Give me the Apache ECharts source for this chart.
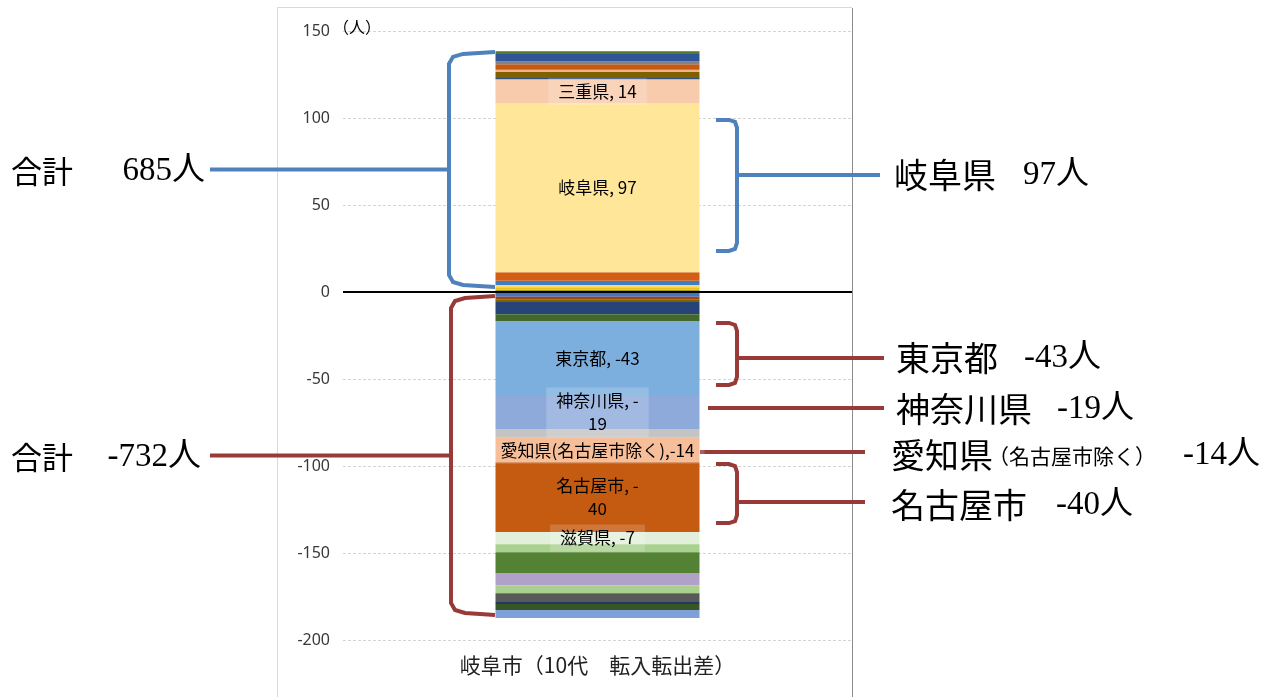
<!DOCTYPE html>
<html>
<head>
<meta charset="utf-8">
<script src="https://cdn.jsdelivr.net/npm/echarts@6/dist/echarts.min.js"></script>
<style>
  html, body { margin: 0; padding: 0; background: #fff; }
  #main { width: 1278px; height: 697px; }
</style>
</head>
<body>
<div id="main"></div>
<script>
var categories = ['岐阜市（10代　転入転出差）'];

// 積み上げの順番: 0 から外側へ（正は上へ、負は下へ）
var segNames = [
  '他1', '他2', '他3', '他4', '他5', '岐阜県', '三重県', '他6', '他7', '他8', '他9', '他10', '他11', '他12',
  '他13', '他14', '他15', '他16', '他17', '東京都', '神奈川県', '他18', '愛知県(名古屋市除く)', '名古屋市', '滋賀県',
  '他19', '他20', '他21', '他22', '他23', '他24', '他25', '他26'
];
var segValues = [
  1.3, 1.5, 1.2, 2.5, 4.8, 97, 14, 0.7, 3.5, 1.2, 3.2, 1.6, 4.3, 1.5,
  -2.8, -1.4, -1.6, -7, -3.9, -43, -19, -5.2, -14, -40, -7,
  -4.6, -12, -7, -4.6, -5, -1.2, -3.5, -4.5
];
var segLabels = [
  '', '', '', '', '', '岐阜県, 97', '三重県, 14', '', '', '', '', '', '', '',
  '', '', '', '', '', '東京都, -43', '神奈川県, -\n19', '', '愛知県(名古屋市除く),-14', '名古屋市, -\n40', '滋賀県, -7',
  '', '', '', '', '', '', '', ''
];
var segColors = [
  '#9a9a1c', '#efbf1e', '#ffd966', '#3d7fc4', '#d45f14', '#ffe699', '#f8cbad', '#2f4f7f', '#7f6000', '#f4b183', '#c55a11', '#7f8390', '#2f5597', '#4f7a30',
  '#4472c4', '#9e480e', '#806000', '#264478', '#43682b', '#7cafdd', '#8eaadb', '#c4c4c4', '#f4b183', '#c55a11', '#e2efda',
  '#a9d18e', '#548235', '#b1a0c7', '#a9d18e', '#595959', '#1f3864', '#375623', '#7f9fd9'
];
var labelBg = ['三重県', '神奈川県', '愛知県(名古屋市除く)', '滋賀県'];

// 注記
var totalPos = 685;
var totalNeg = -732;
var noteNames = ['岐阜県', '東京都', '神奈川県', '愛知県', '名古屋市'];
var noteValues = [97, -43, -19, -14, -40];

var chart = echarts.init(document.getElementById('main'));

var series = [];
for (var i = 0; i < segValues.length; i++) {
  var s = {
    name: segNames[i],
    type: 'bar',
    stack: 'total',
    barWidth: 204,
    data: [segValues[i]],
    itemStyle: { color: segColors[i] },
    label: {
      show: segLabels[i] !== '',
      position: 'inside',
      formatter: segLabels[i],
      color: '#000',
      fontSize: 17,
      lineHeight: 23,
      fontFamily: 'Noto Sans CJK JP',
      backgroundColor: labelBg.indexOf(segNames[i]) >= 0 ? 'rgba(255,255,255,0.18)' : 'transparent',
      padding: [2, 10]
    },
    emphasis: { disabled: true }
  };
  if (i === 0) {
    s.markLine = {
      silent: true,
      symbol: 'none',
      label: { show: false },
      lineStyle: { color: '#000', width: 2, type: 'solid' },
      data: [{ yAxis: 0 }]
    };
  }
  series.push(s);
}

var option = {
  animation: false,
  grid: { left: 343, right: 426, top: 31, bottom: 57 },
  xAxis: {
    type: 'category',
    data: categories,
    axisLine: { show: false, onZero: false },
    axisTick: { show: false },
    axisLabel: { color: '#222', fontSize: 21, margin: 15, fontFamily: 'Noto Sans CJK JP' }
  },
  yAxis: {
    type: 'value',
    min: -200,
    max: 150,
    interval: 50,
    axisLine: { show: false },
    axisTick: { show: false },
    axisLabel: { color: '#383838', fontSize: 16, margin: 13, fontFamily: 'Noto Sans' },
    splitLine: { lineStyle: { color: '#d4d4d4', type: [3, 2] } }
  },
  series: series
};
chart.setOption(option);

function py(v) { return chart.convertToPixel({ yAxisIndex: 0 }, v); }

var blue = '#4f81bd';
var red = '#983a37';

function openRight(xv, xe, yt, yb, color) {
  return {
    type: 'polyline', silent: true,
    shape: { points: [[xe, yt], [xv + 14, yt + 2], [xv + 4, yt + 5], [xv, yt + 12], [xv, yb - 12], [xv + 4, yb - 5], [xv + 14, yb - 2], [xe, yb]] },
    style: { stroke: color, lineWidth: 4, fill: null }
  };
}
function openLeft(xv, xe, yt, yb, color) {
  return {
    type: 'polyline', silent: true,
    shape: { points: [[xe, yt], [xv - 8, yt], [xv - 2, yt + 2], [xv, yt + 8], [xv, yb - 8], [xv - 2, yb - 2], [xv - 8, yb], [xe, yb]] },
    style: { stroke: color, lineWidth: 4, fill: null }
  };
}
function hline(x1, x2, y, color) {
  return { type: 'line', silent: true, shape: { x1: x1, y1: y, x2: x2, y2: y }, style: { stroke: color, lineWidth: 4 } };
}
function txt(t, x, y, size, family, align) {
  return {
    type: 'text', silent: true,
    style: { text: t, x: x, y: y, fontSize: size, fontFamily: family, fill: '#000', align: align || 'left', verticalAlign: 'middle' }
  };
}
var JP = 'Noto Sans CJK JP';
var SERIF = 'Liberation Serif, Noto Sans CJK JP';

var g = [];
// 枠
g.push({ type: 'line', silent: true, shape: { x1: 277.5, y1: 8, x2: 277.5, y2: 697 }, style: { stroke: '#d9d9d9', lineWidth: 1 } });
g.push({ type: 'line', silent: true, shape: { x1: 277, y1: 7.5, x2: 852, y2: 7.5 }, style: { stroke: '#d9d9d9', lineWidth: 1 } });
g.push({ type: 'line', silent: true, shape: { x1: 852.5, y1: 8, x2: 852.5, y2: 697 }, style: { stroke: '#8c8c8c', lineWidth: 1 } });
// 単位
g.push(txt('（人）', 333, py(150) - 4, 16, JP));

// 合計（正）
var yt = py(138), yb = py(2.9), ym = (yt + yb) / 2;
g.push(openRight(449, 495, yt, yb, blue));
g.push(hline(210, 449, ym, blue));
g.push(txt('合計', 11, ym + 2, 31, JP));
g.push(txt(totalPos + '人', 205, ym + 2, 33, SERIF, 'right'));

// 合計（負）
yt = py(-2.3); yb = py(-185.6); ym = (yt + yb) / 2;
g.push(openRight(451, 495, yt, yb, red));
g.push(hline(210, 451, ym, red));
g.push(txt('合計', 11, ym + 2, 31, JP));
g.push(txt(totalNeg + '人', 201, ym + 2, 33, SERIF, 'right'));

// 岐阜県
g.push(openLeft(737, 716, py(98.9), py(23.6), blue));
ym = py(67.2);
g.push(hline(737, 880, ym, blue));
g.push(txt(noteNames[0], 894, ym, 34, JP));
g.push(txt(noteValues[0] + '人', 1023, ym, 33, SERIF));

// 東京都
g.push(openLeft(737, 716, py(-17.8), py(-53.4), red));
ym = py(-37.9);
g.push(hline(737, 884, ym, red));
g.push(txt(noteNames[1], 896, ym, 34, JP));
g.push(txt(noteValues[1] + '人', 1024, ym, 33, SERIF));

// 神奈川県
ym = py(-66.7);
g.push(hline(708, 884, ym, red));
g.push(txt(noteNames[2], 896, ym + 1, 34, JP));
g.push(txt(noteValues[2] + '人', 1057, ym + 1, 33, SERIF));

// 愛知県（名古屋市除く）
ym = py(-92);
g.push(hline(700, 865, ym, red));
g.push(txt(noteNames[3], 891, ym + 3, 34, JP));
g.push(txt('（名古屋市除く）', 988, ym + 4, 21, JP));
g.push(txt(noteValues[3] + '人', 1183, ym + 3, 33, SERIF));

// 名古屋市
g.push(openLeft(737, 716, py(-98.9), py(-132.8), red));
ym = py(-120.7);
g.push(hline(737, 865, ym, red));
g.push(txt(noteNames[4], 891, ym + 3, 34, JP));
g.push(txt(noteValues[4] + '人', 1056, ym + 3, 33, SERIF));

chart.setOption({ graphic: g });
</script>
</body>
</html>
